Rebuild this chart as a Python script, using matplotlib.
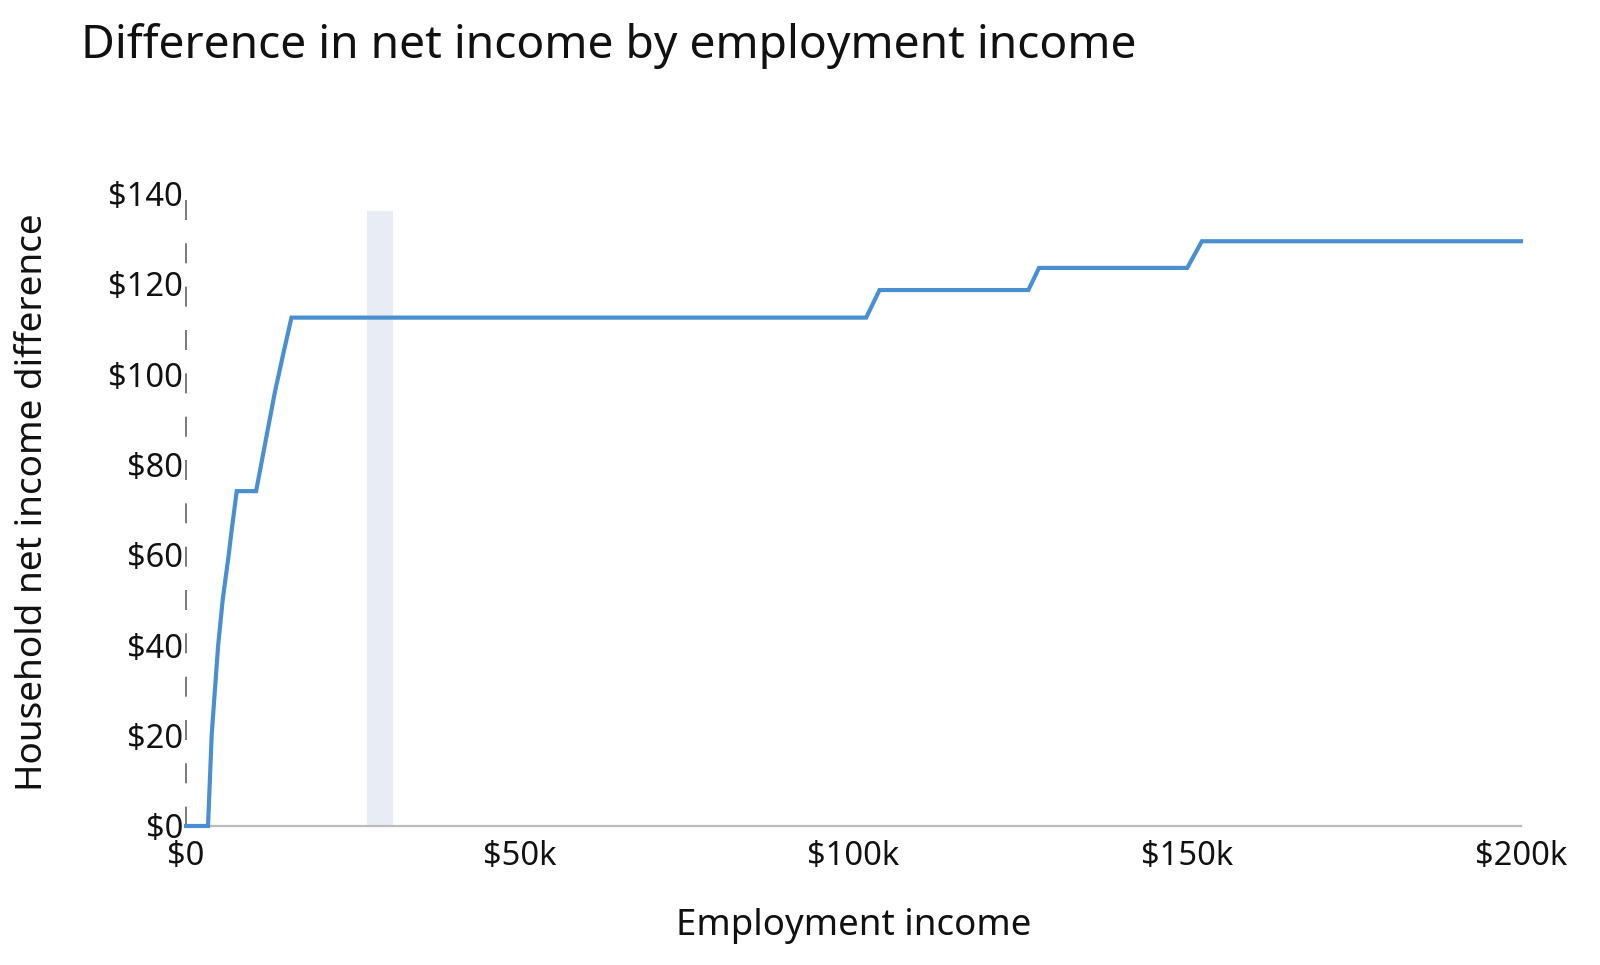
import matplotlib
matplotlib.use("Agg")
import matplotlib.pyplot as plt
from matplotlib.ticker import FuncFormatter

# employment income (thousands of $) and household net income difference ($)
income_k = [0, 3.3, 3.85, 4.8, 5.5, 6.4, 6.85, 7.6, 10.5, 11.8, 13.3, 14.5, 15.8,
            101.9, 103.9, 126.2, 127.8, 150.0, 152.2, 200]
net_diff = [0, 0, 20.2, 39.7, 50.1, 60.0, 65.6, 74.1, 74.1, 84.2, 95.9, 104.0, 112.5,
            112.5, 118.6, 118.6, 123.5, 123.5, 129.4, 129.4]

# highlighted band (thousands of $)
band_k = [27.1, 31.0]
band_top = 136.1

x_ticks_k = [0, 50, 100, 150, 200]
y_ticks = [0, 20, 40, 60, 80, 100, 120, 140]

plt.rcParams['font.family'] = ['Noto Sans', 'DejaVu Sans']

fig = plt.figure(figsize=(16, 9.65), dpi=100)
# $0 at y=826px, $140 at y=193px; view limit a bit above 140 so the label shows
y_lim = 141
ax = fig.add_axes([0.11625, 1 - 826 / 965, 0.9506 - 0.11625, (141 * 4.519) / 965])

axis_top = 138.5
ax.set_xlim(0, 200000)
ax.set_ylim(0, y_lim)

ax.fill_between([band_k[0] * 1000, band_k[1] * 1000], 0, band_top,
                color="#E8EDF5", lw=0, zorder=1)

ax.plot([k * 1000 for k in income_k], net_diff, color="#4A8FCF", lw=3.0,
        solid_joinstyle="miter", zorder=3, clip_on=False)

# dashed y axis line
lw = 1.4
ax.plot([0, 0], [axis_top, 0], color="#7A7A7A", lw=lw,
        linestyle=(0, (14.4 / lw, 16.8 / lw)), clip_on=False, zorder=2)

for side in ["left", "right", "top"]:
    ax.spines[side].set_visible(False)
ax.spines["bottom"].set_color("#BBBBBB")
ax.spines["bottom"].set_linewidth(1.6)
ax.spines["bottom"].set_zorder(2)

ax.set_xticks([k * 1000 for k in x_ticks_k])
ax.xaxis.set_major_formatter(FuncFormatter(lambda v, p: "$0" if v == 0 else f"${int(v / 1000)}k"))
ax.set_yticks(y_ticks)
ax.yaxis.set_major_formatter(FuncFormatter(lambda v, p: f"${int(v)}"))
ax.tick_params(axis="x", length=0, pad=10, labelsize=23.5, colors="#111111")
ax.tick_params(axis="y", length=0, pad=2, labelsize=23.5, colors="#111111")

fig.text(0.0506, 0.952, "Difference in net income by employment income",
         fontsize=33.3, color="#111111", va="center", ha="left")
fig.text(0.5335, 1 - 926 / 965, "Employment income", fontsize=26.4,
         color="#111111", ha="center", va="center")
fig.text(33 / 1600, 1 - 502 / 965, "Household net income difference", fontsize=26.6,
         color="#111111", ha="center", va="center", rotation=90)

fig.savefig("out.png", dpi=100, facecolor="white")
